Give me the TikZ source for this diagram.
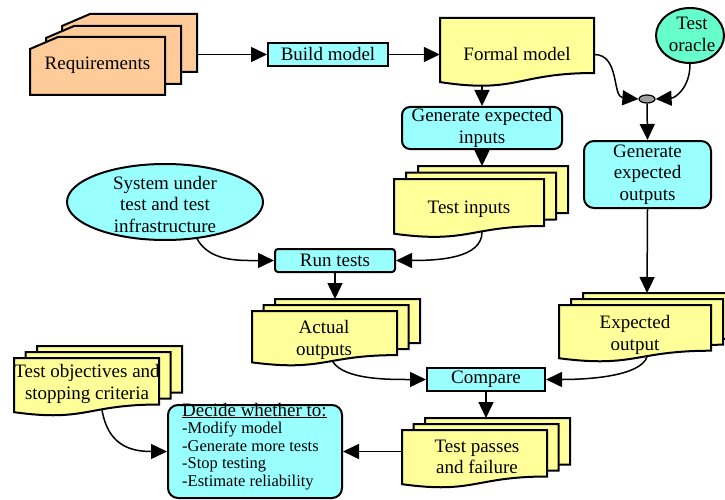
\documentclass[tikz,border=0pt]{standalone}
\usepackage{fontspec}
\setmainfont{Liberation Serif}
\usetikzlibrary{arrows.meta,shapes.geometric}
\definecolor{cy}{HTML}{99FFFF}
\definecolor{yl}{HTML}{FFFF99}
\definecolor{orng}{HTML}{FFCC99}
\definecolor{mint}{HTML}{66FFCC}
\definecolor{jgray}{HTML}{A0A0A0}
\newcommand{\docpath}[4]{(#1,#2) -- ({#1+#3},#2) -- ({#1+#3},{#2+0.802*#4}) .. controls ({#1+0.5*#3},{#2+0.802*#4}) and ({#1+0.5*#3},{#2+1.107*#4}) .. (#1,{#2+0.934*#4}) -- cycle}
\newcommand{\cardpath}[4]{(#1,{#2+12}) -- ({#1+28},#2) -- ({#1+#3},#2) -- ({#1+#3},{#2+#4}) -- (#1,{#2+#4}) -- cycle}
\newcommand{\docstack}[7]{%
  \filldraw[shp, fill=#7] \docpath{#1+2*#5}{#2-2*#6}{#3}{#4};
  \filldraw[shp, fill=#7] \docpath{#1+#5}{#2-#6}{#3}{#4};
  \filldraw[shp, fill=#7] \docpath{#1}{#2}{#3}{#4};
}
\begin{document}
\begin{tikzpicture}[x=1pt,y=-1pt,
  shp/.style={line width=2pt, draw=black},
  conn/.style={line width=1.5pt, -{Triangle[length=16pt,width=15pt]}},
  txt/.style={align=center, inner sep=0pt},
  every node/.style={font=\fontsize{19}{21.5}\selectfont},
  boxn/.style={shp, rectangle, fill=cy, inner sep=1pt, align=center}]
\useasboundingbox (0,0) rectangle (725,500);

% Requirements
\filldraw[shp, fill=orng] \cardpath{62}{14}{135}{58};
\filldraw[shp, fill=orng] \cardpath{46}{26}{135}{58};
\filldraw[shp, fill=orng] \cardpath{30}{37}{135}{58};
\node[txt] (req) at (97.5,65) {Requirements};
\coordinate (reqE) at (197,54.5);

% Build model
\node[boxn, minimum width=120pt, minimum height=23pt] (bm) at (328,54.5) {Build model};

% Formal model
\filldraw[shp, fill=yl] \docpath{440}{18}{154}{68.6};
\node[txt, minimum width=154pt] (fm) at (517,54.5) {Formal model};
\coordinate (fmS) at (482,85);

% Test oracle
\node[shp, ellipse, fill=mint, minimum width=68pt, minimum height=55pt, inner sep=0pt] (to) at (690,35.5) {};
\node[txt] (toT) at (692,34.5) {Test\\oracle};

% junction
\node[ellipse, draw=black, line width=1.2pt, fill=jgray, minimum width=16pt, minimum height=8pt, inner sep=0pt] (jn) at (647,99) {};

% Generate expected inputs
\node[boxn, rounded corners=8pt, minimum width=160pt, minimum height=42pt] (gei) at (482,128) {Generate expected\\inputs};

% Generate expected outputs
\node[boxn, rounded corners=10pt, minimum width=127pt, minimum height=67pt] (geo) at (647.5,174.5) {Generate\\expected\\outputs};

% Test inputs
\docstack{394}{179}{150}{58.6}{12}{6.5}{yl}
\node[txt] (ti) at (469,209) {Test inputs};
\coordinate (tiN) at (482,166);
\coordinate (tiS) at (482,232);

% System under test
\node[shp, ellipse, fill=cy, minimum width=196pt, minimum height=76pt, inner sep=0pt] (sut) at (165,202) {};
\node[txt] (sutT) at (165,204) {System under\\test and test\\infrastructure};

% Run tests
\node[boxn, rounded corners=3pt, minimum width=120pt, minimum height=23pt] (rt) at (335,260.5) {Run tests};

% Actual outputs
\docstack{252}{311}{145}{55}{11.5}{6}{yl}
\node[txt] (ao) at (324,340) {Actual\\outputs};
\coordinate (aoN) at (335,299);
\coordinate (aoS) at (333,362);

% Expected output
\docstack{559}{305}{152}{57}{12}{6}{yl}
\node[txt] (eo) at (635,335) {Expected\\output};
\coordinate (eoN) at (647,293);
\coordinate (eoS) at (647,357);

% Compare
\node[boxn, minimum width=118pt, minimum height=23pt] (cmp) at (486,379.5) {Compare};

% Test passes and failure
\docstack{402}{430}{145}{58}{11.5}{6}{yl}
\node[txt] (tp) at (477,457) {Test passes\\and failure};
\coordinate (tpN) at (486,418);
\coordinate (tpW) at (402,451.5);

% Test objectives
\docstack{14}{358}{145}{58}{11.5}{6}{yl}
\node[txt] (tobj) at (87,384) {Test objectives and\\stopping criteria};
\coordinate (tobjS) at (102,410);

% Decide
\node[shp, rectangle, fill=cy, rounded corners=10pt, minimum width=174pt, minimum height=93pt] (dec) at (255,451.5) {};
\node[anchor=base west, inner sep=0pt, font=\fontsize{16.5}{17.6}\selectfont] (decT) at (182,416)
  {\vtop{\hbox{\fontsize{19}{21}\selectfont\underline{Decide whether to:}}\hbox{-Modify model}\hbox{-Generate more tests}\hbox{-Stop testing}\hbox{-Estimate reliability}}};

% connectors
\draw[conn] (reqE) -- (bm.west);
\draw[conn] (bm.east) -- (fm.west);
\draw[conn] (fm.east) .. controls (620,54.5) and (612,97) .. (jn.west);
\draw[conn] (to.south) .. controls (690,88) and (675,98) .. (jn.east);
\draw[conn] (jn.south) -- (geo.north);
\draw[conn] (fmS) -- (gei.north);
\draw[conn] (gei.south) -- (tiN);
\draw[conn] (tiS) .. controls (482,258) and (440,260.5) .. (rt.east);
\draw[conn] (sut.-49) .. controls (210,262) and (240,260.5) .. (rt.west);
\draw[conn] (rt.south) -- (aoN);
\draw[conn] (geo.south) -- (eoN);
\draw[conn] (aoS) .. controls (345,380) and (390,379.5) .. (cmp.west);
\draw[conn] (eoS) .. controls (640,376) and (590,379.5) .. (cmp.east);
\draw[conn] (cmp.south) -- (tpN);
\draw[conn] (tpW) -- (dec.east);
\draw[conn] (tobjS) .. controls (108,445) and (130,451.5) .. (dec.west);
\end{tikzpicture}
\end{document}
